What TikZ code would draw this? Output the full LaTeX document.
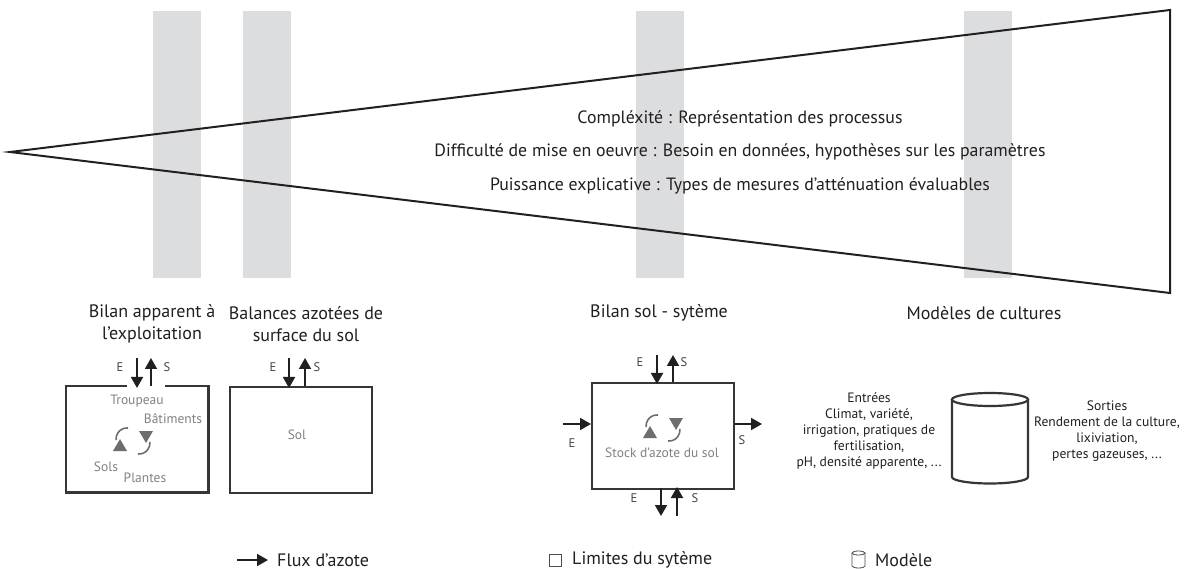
\documentclass[tikz,border=0pt]{standalone}
\usepackage{fontspec}
\setmainfont{PT Sans}
\usetikzlibrary{arrows.meta,calc}
\definecolor{ink}{HTML}{231F20}
\definecolor{bandgray}{HTML}{DCDDDF}
\definecolor{iconsoft}{HTML}{6D6E70}
\definecolor{inner}{HTML}{808285}

\tikzset{
  cycle icon/.pic={
    \draw[iconsoft, line width=1.6pt] (-5,-13) arc[start angle=-85, end angle=-186, radius=11];
    \fill[iconsoft] (-13,-2) -- (-20,10) -- (-6,10) -- cycle;
    \draw[iconsoft, line width=1.6pt] (5,13) arc[start angle=95, end angle=-6, radius=11];
    \fill[iconsoft] (13,2) -- (20,-10) -- (6,-10) -- cycle;
  }
}

\begin{document}
\begin{tikzpicture}[x=1pt, y=-1pt,
  band/.style={fill=bandgray, draw=none},
  boxline/.style={draw=ink!90, line width=2.2pt},
  sysbox/.style={boxline, minimum width=142pt, minimum height=106pt, inner sep=0pt, anchor=north west},
  flow/.style={draw=ink, line width=1.8pt, -{Triangle[length=11pt, width=12pt]}},
  big/.style={font=\fontsize{17.8}{21}\selectfont, text=ink, inner sep=0pt},
  title/.style={font=\fontsize{18}{22}\selectfont, text=ink, align=center, inner sep=0pt},
  inside/.style={font=\fontsize{13.5}{16}\selectfont, text=inner, inner sep=0pt},
  tag/.style={font=\fontsize{12.5}{14}\selectfont, text=ink!85, inner sep=0pt},
  note/.style={font=\fontsize{13.6}{16.2}\selectfont, text=ink, align=center, inner sep=0pt},
  legend/.style={font=\fontsize{18}{21}\selectfont, text=ink, inner sep=0pt, anchor=west},
]
\useasboundingbox (0,0) rectangle (1192,569);
\fill[white] (0,0) rectangle (1192,569);

% grey bands marking the four approaches
\fill[band] (153,11) rectangle (201,278);
\fill[band] (243,11) rectangle (291,278);
\fill[band] (636,11) rectangle (684,278);
\fill[band] (964,11) rectangle (1012,278);

% widening wedge
\coordinate (apex) at (10,152);
\coordinate (tr) at (1170,10);
\coordinate (br) at (1170,293);
\draw[ink, line width=2pt, line join=miter] (apex) -- (tr) -- (br) -- cycle;

\node[big] (l1) at (740,119) {Compléxité : Représentation des processus};
\node[big] (l2) at (740,152) {Difficulté de mise en oeuvre : Besoin en données, hypothèses sur les paramètres};
\node[big] (l3) at (740,186) {Puissance explicative : Types de mesures d’atténuation évaluables};

% titles
\node[title] (t1) at (152,324) {Bilan apparent à\\l’exploitation};
\node[title] (t2) at (306,324) {Balances azotées de\\surface du sol};
\node[title] (t3) at (659,313) {Bilan sol - sytème};
\node[title] (t4) at (984,313) {Modèles de cultures};

% farm balance box (open at the top for the flows)
\node[minimum width=142pt, minimum height=106pt, inner sep=0pt, anchor=north west] (b1) at (66,386) {};
\draw[boxline] (127,386) -- (b1.north west) -- (b1.south west) -- (b1.south east) -- (b1.north east) -- (165,386);
\coordinate (b1in) at (137,358);
\coordinate (b1inend) at (137,388);
\coordinate (b1out) at (151,386);
\coordinate (b1outend) at (151,358);
\draw[flow] (b1in) -- (b1inend);
\draw[flow] (b1out) -- (b1outend);
\node[tag] (b1e) at (120,367) {E};
\node[tag] (b1s) at (167,367) {S};
\node[inside] (trp) at (137,401) {Troupeau};
\node[inside] (bat) at (173,419) {Bâtiments};
\node[inside] (sls) at (106,467) {Sols};
\node[inside] (plt) at (145,478) {Plantes};
\pic at (133,441) {cycle icon};

% soil surface balance box
\node[sysbox] (b2) at (229,386) {};
\coordinate (b2in) at (289,358);
\coordinate (b2inend) at (289,388);
\coordinate (b2out) at (305,386);
\coordinate (b2outend) at (305,358);
\draw[flow] (b2in) -- (b2inend);
\draw[flow] (b2out) -- (b2outend);
\node[tag] (b2e) at (273,367) {E};
\node[tag] (b2s) at (317,367) {S};
\node[inside] (sol) at (297,435) {Sol};

% soil-system balance box
\node[sysbox] (b3) at (591,382) {};
\coordinate (b3tin) at (657,355);
\coordinate (b3tinend) at (657,384);
\coordinate (b3tout) at (673,382);
\coordinate (b3toutend) at (673,355);
\draw[flow] (b3tin) -- (b3tinend);
\draw[flow] (b3tout) -- (b3toutend);
\node[tag] (b3te) at (640,362) {E};
\node[tag] (b3ts) at (684,362) {S};
\coordinate (b3lin) at (563,424);
\draw[flow] (b3lin) -- (b3.west |- b3lin);
\node[tag] (b3le) at (572,443) {E};
\coordinate (b3rout) at (762,424);
\draw[flow] (b3.east |- b3rout) -- (b3rout);
\node[tag] (b3rs) at (742,440) {S};
\coordinate (b3bin) at (661,488);
\coordinate (b3binend) at (661,516);
\coordinate (b3bout) at (677,516);
\coordinate (b3boutend) at (677,487);
\draw[flow] (b3bin) -- (b3binend);
\draw[flow] (b3bout) -- (b3boutend);
\node[tag] (b3be) at (634,498) {E};
\node[tag] (b3bs) at (695,498) {S};
\pic at (663,428) {cycle icon};
\node[inside] (stock) at (662,453) {Stock d’azote du sol};

% crop model
\draw[boxline] (952,399.5) -- (952,477) arc[start angle=180, end angle=0, x radius=38, y radius=6.5] -- (1028,399.5);
\draw[boxline] (990,399.5) ellipse[x radius=38, y radius=6.5];
\node[note] (inputs) at (869,431) {Entrées\\Climat, variété,\\irrigation, pratiques de\\fertilisation,\\pH, densité apparente, ...};
\node[note] (outputs) at (1107,431) {Sorties\\Rendement de la culture,\\lixiviation,\\pertes gazeuses, ...};

% legend
\coordinate (legA) at (237,560);
\coordinate (legB) at (268,560);
\draw[draw=ink, line width=1.8pt, -{Triangle[length=11pt, width=12pt]}] (legA) -- (legB);
\node[legend] (leg1) at (277,560) {Flux d’azote};
\draw[ink!80, line width=0.8pt] (549,554.5) rectangle (561,566);
\node[legend] (leg2) at (572,560) {Limites du sytème};
\draw[ink!80, line width=0.8pt] (852,553) -- (852,566) arc[start angle=180, end angle=0, x radius=6.5, y radius=2] -- (865,553);
\draw[ink!80, line width=0.8pt] (858.5,553) ellipse[x radius=6.5, y radius=2];
\node[legend] (leg3) at (875,560) {Modèle};
\end{tikzpicture}
\end{document}
